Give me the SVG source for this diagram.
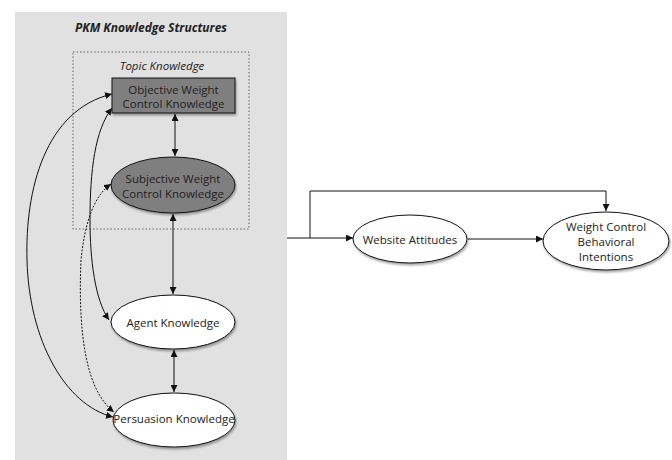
<svg xmlns="http://www.w3.org/2000/svg" width="672" height="460" viewBox="0 0 672 460">
<defs>
<style>
.t{font-family:"Open Sans","Liberation Sans",sans-serif;font-size:11.5px;fill:#222;text-anchor:middle;dominant-baseline:central}
.td{fill:#1e1e1e}
.ln{fill:none;stroke:#111;stroke-width:1}
.nd{stroke:#111;stroke-width:1}
</style>
<marker id="ah" viewBox="0 0 10 10" refX="10" refY="5" markerWidth="7" markerHeight="7" orient="auto-start-reverse" markerUnits="userSpaceOnUse">
<path d="M0,0 L10,5 L0,10 z" fill="#111"/>
</marker>
<filter id="sh" x="-20%" y="-20%" width="140%" height="150%">
<feDropShadow dx="1" dy="2" stdDeviation="1.2" flood-color="#000" flood-opacity="0.35"/>
</filter>
</defs>
<rect x="15" y="12" width="272" height="448" fill="#e1e1e1"/>
<text x="151" y="27" class="t" style="font-weight:bold;font-style:italic;font-size:12px">PKM Knowledge Structures</text>
<rect x="73" y="52" width="176" height="177" fill="none" stroke="#555" stroke-width="0.9" stroke-dasharray="1.5,2"/>
<text x="162" y="65" class="t" style="font-style:italic">Topic Knowledge</text>

<g id="connectors">
<line class="ln" x1="175" y1="114" x2="175" y2="156" marker-start="url(#ah)" marker-end="url(#ah)"/>
<line class="ln" x1="173" y1="214" x2="173" y2="294" marker-start="url(#ah)" marker-end="url(#ah)"/>
<line class="ln" x1="174" y1="350" x2="174" y2="392" marker-start="url(#ah)" marker-end="url(#ah)"/>
<path class="ln" d="M112,94 C45,110 25,190 27,260 C29,340 65,405 113,417" marker-start="url(#ah)" marker-end="url(#ah)"/>
<path class="ln" d="M112,108 C95,130 90,170 90,220 C90,260 95,300 109,320" marker-start="url(#ah)" marker-end="url(#ah)"/>
<path class="ln" d="M111,184 C95,195 85,220 81,260 C78,330 85,390 114,412" stroke-dasharray="2,1.5" marker-start="url(#ah)" marker-end="url(#ah)"/>
<polyline class="ln" points="287,238 353,238" marker-end="url(#ah)"/>
<polyline class="ln" points="310,238 310,191 606,191 606,211" marker-end="url(#ah)"/>
<line class="ln" x1="468" y1="239" x2="543" y2="239" marker-end="url(#ah)"/>
</g>

<g id="objective">
<rect x="112" y="78" width="123" height="35" fill="#7f7f7f" class="nd" filter="url(#sh)"/>
<text x="173.5" y="89" class="t td">Objective Weight</text>
<text x="173.5" y="103" class="t td">Control Knowledge</text>
</g>
<g id="subjective">
<ellipse cx="173" cy="185" rx="62" ry="28" fill="#7f7f7f" class="nd" filter="url(#sh)"/>
<text x="173" y="178" class="t td">Subjective Weight</text>
<text x="173" y="193" class="t td">Control Knowledge</text>
</g>
<g id="agent">
<ellipse cx="173" cy="322" rx="62" ry="27" fill="#fff" class="nd" filter="url(#sh)"/>
<text x="173" y="322" class="t">Agent Knowledge</text>
</g>
<g id="persuasion">
<ellipse cx="174" cy="420" rx="61" ry="27" fill="#fff" class="nd" filter="url(#sh)"/>
<text x="174" y="418" class="t">Persuasion Knowledge</text>
</g>
<g id="website">
<ellipse cx="410" cy="239" rx="57" ry="24" fill="#fff" class="nd" filter="url(#sh)"/>
<text x="410" y="239" class="t">Website Attitudes</text>
</g>
<g id="intentions">
<ellipse cx="606" cy="241" rx="63" ry="29" fill="#fff" class="nd" filter="url(#sh)"/>
<text x="606" y="226" class="t">Weight Control</text>
<text x="606" y="241" class="t">Behavioral</text>
<text x="606" y="256" class="t">Intentions</text>
</g>
</svg>
